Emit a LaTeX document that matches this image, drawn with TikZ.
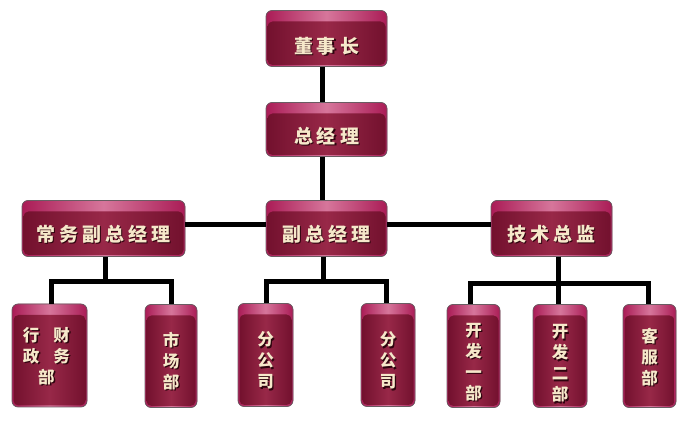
\documentclass[tikz,border=0pt]{standalone}
\usepackage{fontspec}
\newfontfamily\cjk{Noto Sans CJK SC}
\definecolor{bandE}{RGB}{170,28,86}
\definecolor{bandM}{RGB}{214,118,155}
\definecolor{bodyE}{RGB}{115,17,46}
\definecolor{bodyM}{RGB}{152,40,72}
\definecolor{txt}{RGB}{246,232,202}
\definecolor{shd}{RGB}{45,4,14}
\definecolor{edge}{RGB}{105,92,98}
\newcommand\sh[1]{\makebox[0pt][l]{\hspace{1.3pt}\raisebox{-1.3pt}{\color{shd}#1}}#1}
\newcommand\hl[2][13pt]{\raisebox{-#1}[0pt][0pt]{#2}}
\newcommand\vl[2][12pt]{\raisebox{-#1}[0pt][0pt]{\begin{tabular}{@{}c@{}}#2\end{tabular}}}
\tikzset{
  orgbox/.style={rounded corners=6pt, draw=edge, line width=0.7pt, inner sep=0pt, fill=bodyE, text=txt,
    path picture={
      \shade[left color=bandE,right color=bandE,middle color=bandM]
        (path picture bounding box.north west) rectangle (path picture bounding box.south east);
      \shade[rounded corners=5pt,left color=bodyE,right color=bodyE,middle color=bodyM]
        ([xshift=1.5pt,yshift=-11pt]path picture bounding box.north west) rectangle
        ([xshift=-1.5pt,yshift=1.5pt]path picture bounding box.south east);
    }},
  wide/.style={orgbox, minimum height=56pt, font=\cjk\bfseries\fontsize{19}{22}\selectfont},
  tall/.style={orgbox, minimum height=103pt, font=\cjk\bfseries\fontsize{16.5}{21}\selectfont},
  link/.style={line width=5pt, black}
}
\begin{document}
\begin{tikzpicture}[x=1pt,y=-1pt]
\useasboundingbox[fill=white] (0,0) rectangle (686,427);
% top levels
\node[wide, minimum width=121pt] (chair) at (326.5,38.5) {\hl[14.7pt]{\sh{董\hspace{4pt}事\hspace{4pt}长}}};
\node[wide, minimum width=121pt, minimum height=54pt] (gm) at (326.5,129.5) {\hl[13.7pt]{\sh{总\hspace{4pt}经\hspace{4pt}理}}};
\node[wide, minimum width=163pt] (vp1) at (103.5,228.5) {\hl[12.7pt]{\sh{常\hspace{4pt}务\hspace{4pt}副\hspace{4pt}总\hspace{4pt}经\hspace{4pt}理}}};
\node[wide, minimum width=121pt] (vp) at (326.5,228.5) {\hl[12.7pt]{\sh{副\hspace{4pt}总\hspace{4pt}经\hspace{4pt}理}}};
\node[wide, minimum width=121pt] (cto) at (551.5,228.5) {\hl[12.7pt]{\sh{技\hspace{4pt}术\hspace{4pt}总\hspace{4pt}监}}};
% bottom level
\node[tall, minimum width=75pt] (b1) at (49.5,355.5) {\kern-6pt\vl[7pt]{\sh{行}\hspace{14pt}\sh{财}\\\sh{政}\hspace{14pt}\sh{务}\\\sh{部}}};
\node[tall, minimum width=52pt] (b2) at (171,356) {\vl[11.5pt]{\sh{市}\\\sh{场}\\\sh{部}}};
\node[tall, minimum width=55pt] (b3) at (265.5,355) {\vl[12pt]{\sh{分}\\\sh{公}\\\sh{司}}};
\node[tall, minimum width=54pt] (b4) at (388,355) {\vl[12pt]{\sh{分}\\\sh{公}\\\sh{司}}};
\node[tall, minimum width=53pt] (b5) at (473.5,356) {\vl[12pt]{\sh{开}\\\sh{发}\\\sh{一}\\\sh{部}}};
\node[tall, minimum width=54pt] (b6) at (560,356) {\vl[13.5pt]{\sh{开}\\\sh{发}\\\sh{二}\\\sh{部}}};
\node[tall, minimum width=53pt] (b7) at (649.5,356) {\vl[7.5pt]{\sh{客}\\\sh{服}\\\sh{部}}};
% connectors
\draw[link] ([xshift=-4pt]chair.south) -- ([xshift=-4pt]gm.north);
\draw[link] ([xshift=-4pt]gm.south) -- ([xshift=-4pt]vp.north);
\draw[link] ([yshift=4pt]vp1.east) -- ([yshift=4pt]vp.west);
\draw[link] ([yshift=4pt]vp.east) -- ([yshift=4pt]cto.west);
\draw[link] ([xshift=1.5pt]vp1.south) -- ++(0,25) -| ([xshift=2pt]b1.north);
\draw[link] ([xshift=1.5pt]vp1.south) -- ++(0,25) -| (b2.north);
\draw[link] ([xshift=-3.5pt]vp.south) -- ++(0,25) -| ([xshift=1pt]b3.north);
\draw[link] ([xshift=-3.5pt]vp.south) -- ++(0,25) -| ([xshift=-2pt]b4.north);
\draw[link] ([xshift=6.5pt]cto.south) -- ++(0,27) -| ([xshift=-3pt]b5.north);
\draw[link] ([xshift=6.5pt]cto.south) -- ([xshift=6.5pt]cto.south |- b6.north);
\draw[link] ([xshift=6.5pt]cto.south) -- ++(0,27) -| ([xshift=-1.5pt]b7.north);
\end{tikzpicture}
\end{document}
